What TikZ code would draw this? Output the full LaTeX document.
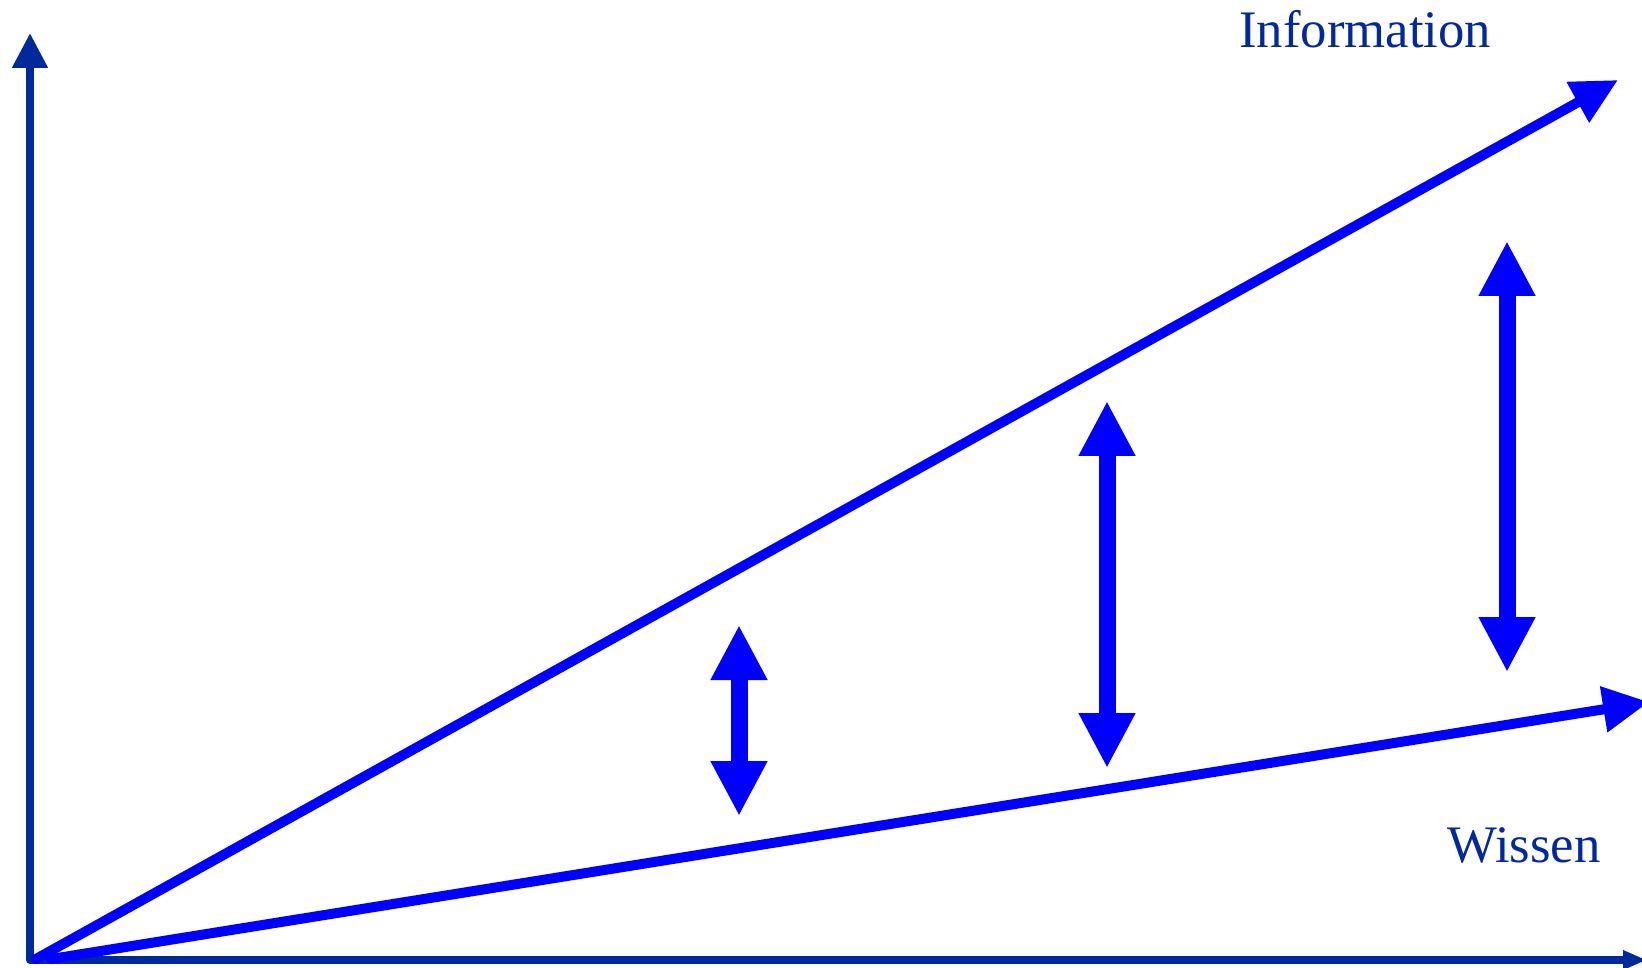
\documentclass[tikz,border=0pt]{standalone}
\usepackage{fontspec}
\setmainfont{Liberation Serif}
\usetikzlibrary{arrows.meta}
\definecolor{axisblue}{HTML}{00299C}
\definecolor{rayblue}{HTML}{0000FF}

\begin{document}
\begin{tikzpicture}[
    x=0.02cm, y=-0.02cm,
    axis/.style={draw=axisblue, line width=0.16cm, line join=round, line cap=round},
    ray/.style={draw=rayblue, line width=0.2cm, line cap=round,
                -{Triangle[length=0.92cm, width=0.88cm]}},
    gap/.style={draw=rayblue, line width=0.34cm,
                {Triangle[length=1.1cm, width=1.06cm]}-{Triangle[length=1.1cm, width=1.06cm]}},
    lbl/.style={font=\fontsize{30}{36}\selectfont, text=axisblue, inner sep=0pt, anchor=base west},
]
    \useasboundingbox (0,0) rectangle (1642,967);

    % axes
    \coordinate (yend) at (30,33);
    \coordinate (o) at (30,960);
    \coordinate (xend) at (1647,960);
    \draw[axis, {Triangle[length=0.7cm, width=0.68cm]}-{Triangle[length=0.48cm, width=0.36cm]}]
        (yend) -- (o) -- (xend);

    % growth lines
    \coordinate (src1) at (36,959);
    \coordinate (src2) at (51,959);
    \coordinate (info) at (1618,80);
    \coordinate (wis) at (1649,702);
    \draw[ray] (src1) -- (info);
    \draw[ray] (src2) -- (wis);
    \node[lbl] (infolbl) at (1239,47) {Information};
    \node[lbl] (wislbl) at (1447,862) {Wissen};

    % widening gap
    \coordinate (g1t) at (739,625);
    \coordinate (g1b) at (739,816);
    \draw[gap] (g1t) -- (g1b);
    \coordinate (g2t) at (1107,401);
    \coordinate (g2b) at (1107,768);
    \draw[gap] (g2t) -- (g2b);
    \coordinate (g3t) at (1507,241);
    \coordinate (g3b) at (1507,672);
    \draw[gap] (g3t) -- (g3b);
\end{tikzpicture}
\end{document}
